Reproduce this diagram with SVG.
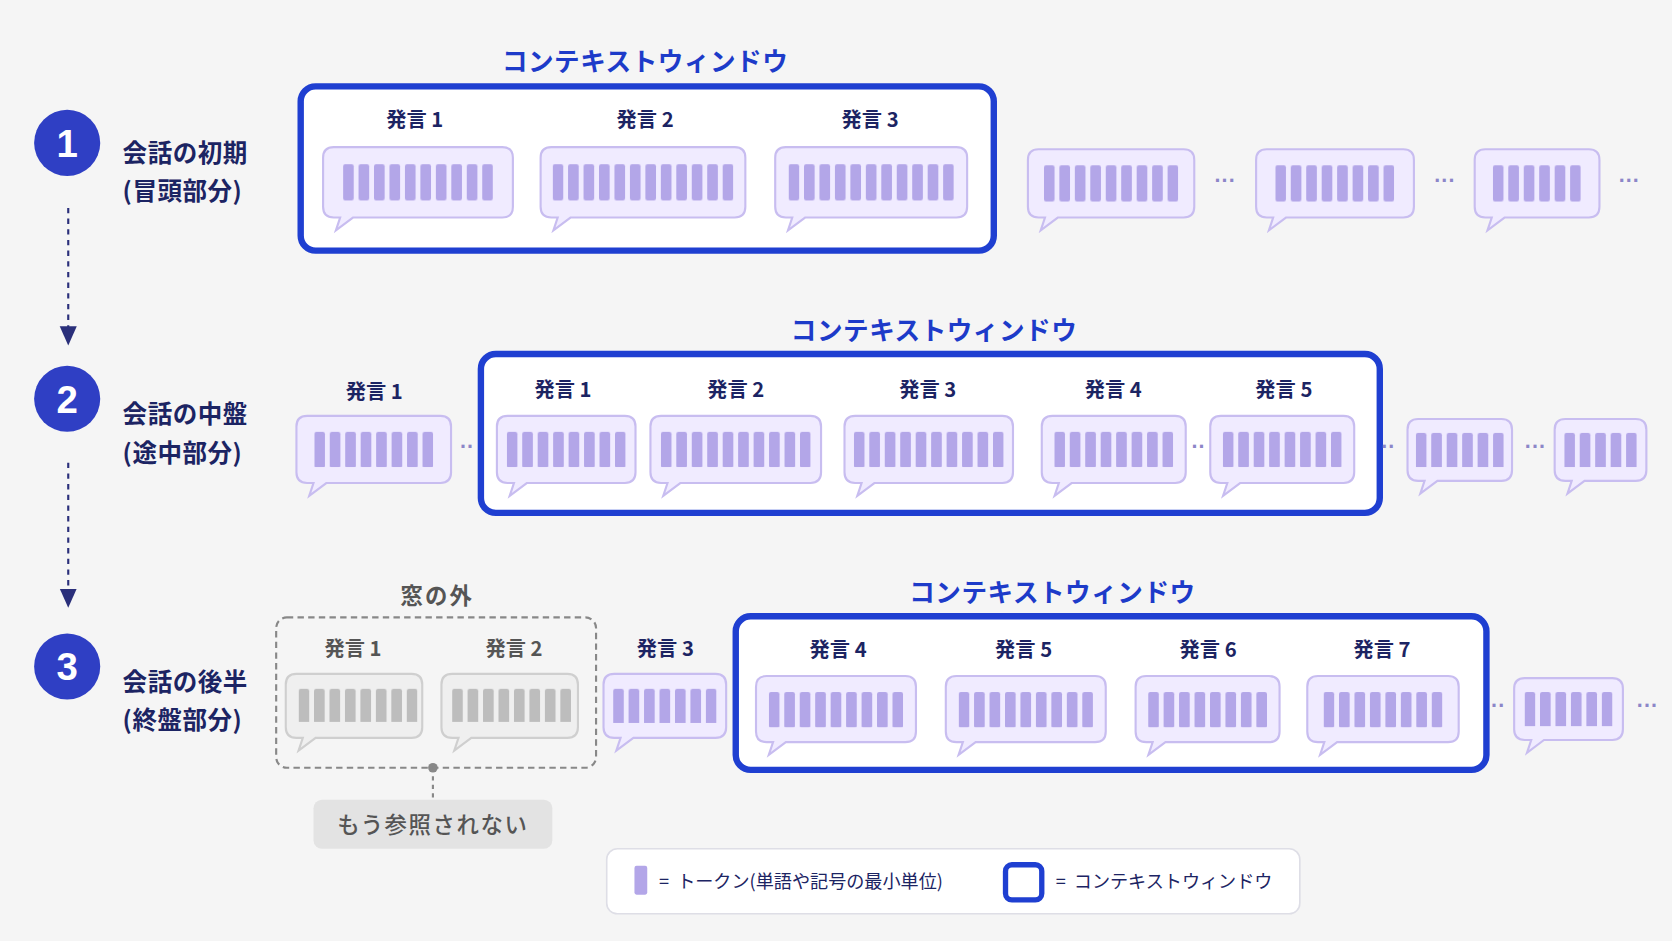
<svg xmlns="http://www.w3.org/2000/svg" width="1672" height="941" viewBox="0 0 1672 941">
<defs>
<style>
.t{font-family:"Noto Sans CJK JP","Noto Sans",sans-serif;white-space:pre;}
.lbl{font-size:19px;font-weight:700;fill:#1c2463;text-anchor:middle;}
.glbl{font-size:19px;font-weight:700;fill:#555;text-anchor:middle;}
.side{font-size:23px;font-weight:700;fill:#1c2463;letter-spacing:0.5px;}
.ttl{font-size:24px;font-weight:700;fill:#1d3bc9;text-anchor:middle;letter-spacing:0.5px;}
.num{font-size:36px;font-weight:700;fill:#fff;text-anchor:middle;font-family:"Liberation Sans",sans-serif;}
.bub{fill:#f0ebff;stroke:#c8bdf0;stroke-width:2;}
.gbub{fill:#efefef;stroke:#cfcfcf;stroke-width:2;}
.win{fill:#fff;stroke:#1f3fd1;stroke-width:6;}
.dots{font-size:20px;font-weight:700;fill:#8c86c8;text-anchor:middle;font-family:"Liberation Sans",sans-serif;}
</style>
<pattern id="tok" patternUnits="userSpaceOnUse" width="14.5" height="34"><rect width="10" height="34" rx="2" fill="#b3a6e8"/></pattern>
<pattern id="tokg" patternUnits="userSpaceOnUse" width="14.5" height="34"><rect width="10" height="34" rx="2" fill="#bdbdbd"/></pattern>
<marker id="ah" markerWidth="10" markerHeight="10" refX="5" refY="5" orient="auto"><path d="M0,1 L9,5 L0,9 Z" fill="#2a2f7a"/></marker>
</defs>
<rect width="1672" height="941" fill="#f5f5f5"/>
<g transform="scale(1.0663)">
<g id="connectors">
<line x1="64" y1="195" x2="64" y2="316" stroke="#2a2f7a" stroke-width="2" stroke-dasharray="5,5" marker-end="url(#ah)"/>
<line x1="64" y1="434" x2="64" y2="562" stroke="#2a2f7a" stroke-width="2" stroke-dasharray="5,5" marker-end="url(#ah)"/>
<line x1="406" y1="720" x2="406" y2="748" stroke="#888" stroke-width="2" stroke-dasharray="4,4"/>
<circle cx="406" cy="720" r="4.5" fill="#888"/>
</g>
<g id="step1">
<circle cx="63" cy="134" r="31" fill="#2f3fc4"/><text class="num" x="63" y="147">1</text>
<text class="t side" x="115" y="152">会話の初期</text><text class="t side" x="115" y="188">(冒頭部分)</text>
</g>
<g id="step2">
<circle cx="63" cy="374" r="31" fill="#2f3fc4"/><text class="num" x="63" y="387">2</text>
<text class="t side" x="115" y="397">会話の中盤</text><text class="t side" x="115" y="433">(途中部分)</text>
</g>
<g id="step3">
<circle cx="63" cy="625" r="31" fill="#2f3fc4"/><text class="num" x="63" y="638">3</text>
<text class="t side" x="115" y="648">会話の後半</text><text class="t side" x="115" y="684">(終盤部分)</text>
</g>

<g id="window1">
<text class="t ttl" x="605" y="67">コンテキストウィンドウ</text>
<rect class="win" x="282" y="81" width="650" height="154" rx="14"/>
</g>
<g id="row1">
<text class="t lbl" x="389" y="119">発言 1</text><text class="t lbl" x="605" y="119">発言 2</text><text class="t lbl" x="816" y="119">発言 3</text>
<g transform="translate(303,138)"><path class="bub" d="M10,0H168Q178,0 178,10V56Q178,66 168,66H28L12,78L16,66H10Q0,66 0,56V10Q0,0 10,0Z"/><g transform="translate(18.75,16)"><rect width="140.5" height="34" fill="url(#tok)"/></g></g>
<g transform="translate(507,138)"><path class="bub" d="M10,0H182Q192,0 192,10V56Q192,66 182,66H28L12,78L16,66H10Q0,66 0,56V10Q0,0 10,0Z"/><g transform="translate(11.25,16)"><rect width="169.5" height="34" fill="url(#tok)"/></g></g>
<g transform="translate(727,138)"><path class="bub" d="M10,0H170Q180,0 180,10V56Q180,66 170,66H28L12,78L16,66H10Q0,66 0,56V10Q0,0 10,0Z"/><g transform="translate(12.5,16)"><rect width="155" height="34" fill="url(#tok)"/></g></g>
<g transform="translate(964,140)"><path class="bub" d="M10,0H146Q156,0 156,10V54Q156,64 146,64H28L12,76L16,64H10Q0,64 0,54V10Q0,0 10,0Z"/><g transform="translate(15,15)"><rect width="126" height="34" fill="url(#tok)"/></g></g>
<text class="dots" x="1149" y="176">···</text>
<g transform="translate(1178,140)"><path class="bub" d="M10,0H138Q148,0 148,10V54Q148,64 138,64H28L12,76L16,64H10Q0,64 0,54V10Q0,0 10,0Z"/><g transform="translate(18,15)"><rect width="111.5" height="34" fill="url(#tok)"/></g></g>
<text class="dots" x="1355" y="176">···</text>
<g transform="translate(1383,140)"><path class="bub" d="M10,0H107Q117,0 117,10V54Q117,64 107,64H28L12,76L16,64H10Q0,64 0,54V10Q0,0 10,0Z"/><g transform="translate(17,15)"><rect width="82.5" height="34" fill="url(#tok)"/></g></g>
<text class="dots" x="1528" y="176">···</text>
</g>

<g id="window2">
<text class="t ttl" x="876" y="319">コンテキストウィンドウ</text>
<rect class="win" x="451" y="332" width="843" height="149" rx="14"/>
</g>
<g id="row2">
<text class="t lbl" x="351" y="374">発言 1</text>
<g transform="translate(278,390)"><path class="bub" d="M10,0H135Q145,0 145,10V53Q145,63 135,63H28L12,75L16,63H10Q0,63 0,53V10Q0,0 10,0Z"/><g transform="translate(16.75,15)"><rect width="111.5" height="33" fill="url(#tok)"/></g></g>
<text class="dots" x="438" y="426">··</text>
<text class="t lbl" x="528" y="372">発言 1</text><text class="t lbl" x="690" y="372">発言 2</text><text class="t lbl" x="870" y="372">発言 3</text><text class="t lbl" x="1044" y="372">発言 4</text><text class="t lbl" x="1204" y="372">発言 5</text>
<g transform="translate(466,390)"><path class="bub" d="M10,0H120Q130,0 130,10V53Q130,63 120,63H28L12,75L16,63H10Q0,63 0,53V10Q0,0 10,0Z"/><g transform="translate(9.25,15)"><rect width="111.5" height="33" fill="url(#tok)"/></g></g>
<g transform="translate(610,390)"><path class="bub" d="M10,0H150Q160,0 160,10V53Q160,63 150,63H28L12,75L16,63H10Q0,63 0,53V10Q0,0 10,0Z"/><g transform="translate(9.75,15)"><rect width="140.5" height="33" fill="url(#tok)"/></g></g>
<g transform="translate(792,390)"><path class="bub" d="M10,0H148Q158,0 158,10V53Q158,63 148,63H28L12,75L16,63H10Q0,63 0,53V10Q0,0 10,0Z"/><g transform="translate(8.75,15)"><rect width="140.5" height="33" fill="url(#tok)"/></g></g>
<g transform="translate(977,390)"><path class="bub" d="M10,0H125Q135,0 135,10V53Q135,63 125,63H28L12,75L16,63H10Q0,63 0,53V10Q0,0 10,0Z"/><g transform="translate(11.75,15)"><rect width="111.5" height="33" fill="url(#tok)"/></g></g>
<text class="dots" x="1124" y="426">··</text>
<g transform="translate(1135,390)"><path class="bub" d="M10,0H125Q135,0 135,10V53Q135,63 125,63H28L12,75L16,63H10Q0,63 0,53V10Q0,0 10,0Z"/><g transform="translate(11.75,15)"><rect width="111.5" height="33" fill="url(#tok)"/></g></g>
<text class="dots" x="1302" y="426">··</text>
<g transform="translate(1320,393)"><path class="bub" d="M10,0H88Q98,0 98,10V48Q98,58 88,58H28L12,70L16,58H10Q0,58 0,48V10Q0,0 10,0Z"/><g transform="translate(7.75,13)"><rect width="82.5" height="32" fill="url(#tok)"/></g></g>
<text class="dots" x="1440" y="426">···</text>
<g transform="translate(1458,393)"><path class="bub" d="M10,0H76Q86,0 86,10V48Q86,58 76,58H28L12,70L16,58H10Q0,58 0,48V10Q0,0 10,0Z"/><g transform="translate(9,13)"><rect width="68" height="32" fill="url(#tok)"/></g></g>
</g>

<g id="outside">
<text class="t" x="410" y="566" font-size="21" font-weight="700" fill="#555" text-anchor="middle" letter-spacing="2">窓の外</text>
<rect x="259" y="579" width="300" height="141" rx="10" fill="none" stroke="#888" stroke-width="2" stroke-dasharray="6,4"/>
<text class="t glbl" x="331" y="615">発言 1</text><text class="t glbl" x="482" y="615">発言 2</text>
<g transform="translate(268,632)"><path class="gbub" d="M10,0H118Q128,0 128,10V50Q128,60 118,60H28L12,72L16,60H10Q0,60 0,50V10Q0,0 10,0Z"/><g transform="translate(12,14)"><rect width="111.5" height="31" fill="url(#tokg)"/></g></g>
<g transform="translate(414,632)"><path class="gbub" d="M10,0H118Q128,0 128,10V50Q128,60 118,60H28L12,72L16,60H10Q0,60 0,50V10Q0,0 10,0Z"/><g transform="translate(10,14)"><rect width="111.5" height="31" fill="url(#tokg)"/></g></g>
</g>
<g id="note">
<rect x="294" y="750" width="224" height="46" rx="8" fill="#e3e3e3"/>
<text class="t" x="406" y="781" font-size="21" font-weight="500" fill="#555" text-anchor="middle" letter-spacing="1.5">もう参照されない</text>
</g>

<g id="window3">
<text class="t ttl" x="987" y="565">コンテキストウィンドウ</text>
<rect class="win" x="690" y="578" width="704" height="144" rx="14"/>
</g>
<g id="row3">
<text class="t lbl" x="624" y="615">発言 3</text>
<g transform="translate(566,632)"><path class="bub" d="M10,0H105Q115,0 115,10V50Q115,60 105,60H28L12,72L16,60H10Q0,60 0,50V10Q0,0 10,0Z"/><g transform="translate(9,14)"><rect width="97" height="32" fill="url(#tok)"/></g></g>
<text class="t lbl" x="786" y="616">発言 4</text><text class="t lbl" x="960" y="616">発言 5</text><text class="t lbl" x="1133" y="616">発言 6</text><text class="t lbl" x="1296" y="616">発言 7</text>
<g transform="translate(709,634)"><path class="bub" d="M10,0H140Q150,0 150,10V52Q150,62 140,62H28L12,74L16,62H10Q0,62 0,52V10Q0,0 10,0Z"/><g transform="translate(12,15)"><rect width="126" height="33" fill="url(#tok)"/></g></g>
<g transform="translate(887,634)"><path class="bub" d="M10,0H140Q150,0 150,10V52Q150,62 140,62H28L12,74L16,62H10Q0,62 0,52V10Q0,0 10,0Z"/><g transform="translate(12,15)"><rect width="126" height="33" fill="url(#tok)"/></g></g>
<g transform="translate(1065,634)"><path class="bub" d="M10,0H125Q135,0 135,10V52Q135,62 125,62H28L12,74L16,62H10Q0,62 0,52V10Q0,0 10,0Z"/><g transform="translate(11.75,15)"><rect width="111.5" height="33" fill="url(#tok)"/></g></g>
<g transform="translate(1226,634)"><path class="bub" d="M10,0H132Q142,0 142,10V52Q142,62 132,62H28L12,74L16,62H10Q0,62 0,52V10Q0,0 10,0Z"/><g transform="translate(15.25,15)"><rect width="111.5" height="33" fill="url(#tok)"/></g></g>
<text class="dots" x="1405" y="669">··</text>
<g transform="translate(1420,636)"><path class="bub" d="M10,0H92Q102,0 102,10V48Q102,58 92,58H28L12,70L16,58H10Q0,58 0,48V10Q0,0 10,0Z"/><g transform="translate(9.75,13)"><rect width="82.5" height="32" fill="url(#tok)"/></g></g>
<text class="dots" x="1545" y="669">···</text>
</g>

<g id="legend">
<rect x="569" y="796" width="650" height="61" rx="10" fill="#fff" stroke="#dedee6" stroke-width="1.5"/>
<rect x="595" y="812" width="12" height="27" rx="2" fill="#b3a6e8"/>
<text class="t" x="618" y="833" font-size="17" fill="#1c2463">=  トークン(単語や記号の最小単位)</text>
<rect x="943" y="811" width="34" height="33" rx="6" fill="#fff" stroke="#1f3fd1" stroke-width="5"/>
<text class="t" x="990" y="833" font-size="17" fill="#1c2463">=  コンテキストウィンドウ</text>
</g>
</g>
</svg>
